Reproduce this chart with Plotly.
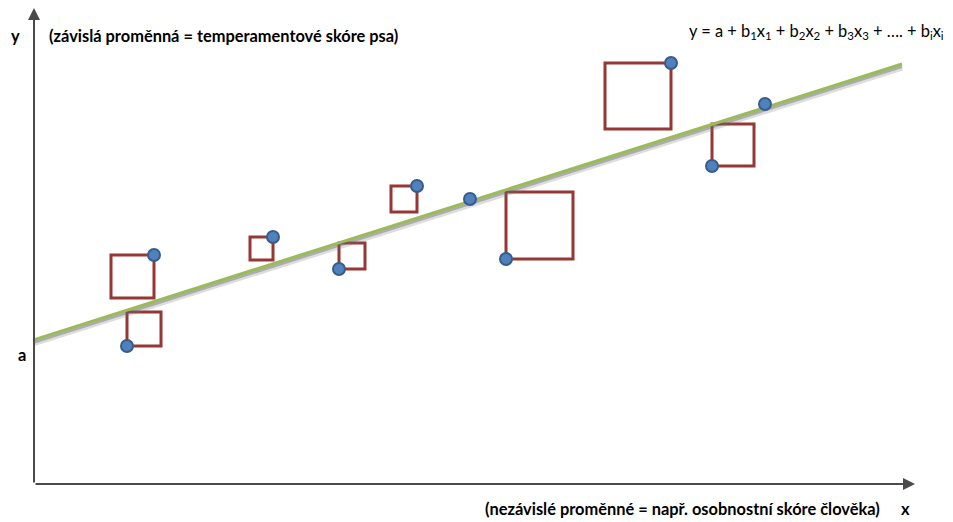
import plotly.graph_objects as go

# ---- data (diagram units: 1 unit = 10 px on both axes) ----
point_x = [9.3, 12.0, 23.9, 30.5, 38.3, 43.6, 47.2, 63.7, 67.8, 73.1]
point_y = [13.8, 22.9, 24.7, 21.5, 29.8, 28.5, 22.5, 42.1, 31.8, 38.0]
square_side = [3.4, 4.3, 2.3, 2.6, 2.6, 0.0, 6.7, 6.6, 4.2, 0.0]

intercept_a = 14.43
slope_b = 0.3176
line_x = [-0.1, 86.8]

x_range = [0, 88.1]
y_range = [0, 47.6]

label_y_axis = "y"
label_dep = "(závislá proměnná = temperamentové skóre psa)"
label_eq = ("y = a + b<sub>1</sub>x<sub>1</sub> + b<sub>2</sub>x<sub>2</sub> + "
            "b<sub>3</sub>x<sub>3</sub> + …. + b<sub>i</sub>x<sub>i</sub>")
label_indep = "(nezávislé proměnné = např. osobnostní skóre člověka)"
label_x_axis = "x"
label_a = "a"

FONT = "Lato, 'Noto Sans', sans-serif"

line_y = [intercept_a + slope_b * v for v in line_x]

fig = go.Figure()

# soft shadow of regression line
fig.add_trace(go.Scatter(
    x=line_x, y=[v - 0.35 for v in line_y], mode="lines",
    line=dict(color="rgba(120,120,120,0.25)", width=6), hoverinfo="skip",
    showlegend=False))
fig.add_trace(go.Scatter(
    x=line_x, y=[v - 0.25 for v in line_y], mode="lines",
    line=dict(color="rgba(100,100,100,0.4)", width=3), hoverinfo="skip",
    showlegend=False))
# regression line
fig.add_trace(go.Scatter(
    x=line_x, y=line_y, mode="lines",
    line=dict(color="#9BBB59", width=3), hoverinfo="skip", showlegend=False))

# residual squares
shapes = []
for px, py, s in zip(point_x, point_y, square_side):
    if s <= 0:
        continue
    fitted = intercept_a + slope_b * px
    if py < fitted:
        x0, x1 = px, px + s
        y0, y1 = py, py + s
    else:
        x0, x1 = px - s, px
        y0, y1 = py - s, py
    shapes.append(dict(type="rect", xref="x", yref="y", x0=x0, x1=x1, y0=y0, y1=y1,
                       line=dict(color="#953735", width=3), fillcolor="rgba(0,0,0,0)",
                       layer="below"))

# data points
fig.add_trace(go.Scatter(
    x=point_x, y=point_y, mode="markers",
    marker=dict(size=12, color="#4F81BD", line=dict(color="#385D8A", width=2)),
    showlegend=False, hoverinfo="skip"))

annotations = []
# axes with arrowheads
annotations.append(dict(x=0, y=y_range[1], ax=0, ay=0, xref="x", yref="y",
                        axref="x", ayref="y", text="", showarrow=True,
                        arrowhead=2, arrowsize=1.2, arrowwidth=2, arrowcolor="#4a4a4a"))
annotations.append(dict(x=x_range[1], y=0, ax=0, ay=0, xref="x", yref="y",
                        axref="x", ayref="y", text="", showarrow=True,
                        arrowhead=2, arrowsize=1.2, arrowwidth=2, arrowcolor="#4a4a4a"))


def txt(t, x, y, anchor="left", bold=True, size=16.4):
    # x, y given in diagram units, converted to paper fractions
    return dict(text=f"<b>{t}</b>" if bold else t,
                x=x / x_range[1], y=y / y_range[1], xref="paper", yref="paper",
                xanchor=anchor, yanchor="middle", showarrow=False,
                font=dict(family=FONT, size=size, color="#000000"))


annotations.append(txt(label_y_axis, -1.9, 44.9, anchor="center"))
annotations.append(txt(label_dep, 1.3, 44.9))
annotations.append(txt(label_eq, 65.3, 45.3, bold=False))
annotations.append(txt(label_indep, 44.9, -2.4))
annotations.append(txt(label_x_axis, 87.1, -2.4, anchor="center"))
annotations.append(txt(label_a, -1.2, 13.0, anchor="center"))

# page body has an 8px margin: compensate so the plot sits where the reference does
fig.update_layout(
    width=945, height=514,
    margin=dict(l=26, r=38, t=0, b=38),
    paper_bgcolor="white", plot_bgcolor="white",
    xaxis=dict(range=x_range, visible=False, fixedrange=True),
    yaxis=dict(range=y_range, visible=False, fixedrange=True),
    shapes=shapes, annotations=annotations, showlegend=False,
)

fig.write_html("out.html")
